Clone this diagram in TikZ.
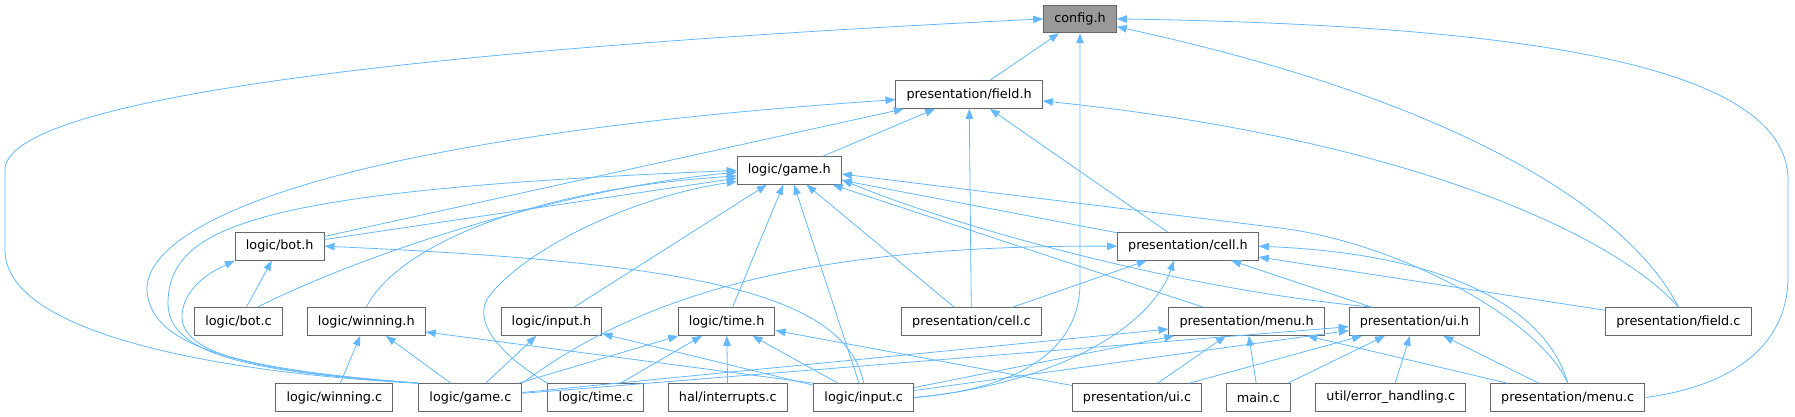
\documentclass[tikz,border=0pt]{standalone}
\usepackage{fontspec}
\setmainfont{DejaVu Sans}
\usepackage{xcolor}
\usetikzlibrary{arrows.meta,positioning}

\definecolor{edgeblue}{HTML}{63B8FF}
\definecolor{boxgrey}{HTML}{666666}
\definecolor{rootgrey}{HTML}{999999}

\begin{document}
\begin{tikzpicture}[
x=1pt, y=-1pt,
file/.style={draw=boxgrey, line width=1pt, fill=white, minimum height=27.7pt, inner xsep=10.6pt, inner ysep=0pt, font=\fontsize{12.8pt}{15pt}\selectfont},
root/.style={file, fill=rootgrey},
incl/.style={draw=edgeblue, line width=0.8pt, -{Triangle[length=10pt, width=7.5pt]}}
]
\useasboundingbox (0,0) rectangle (1795,417);

\node[root] (config) at (1080,18.9) {config.h};
\node[file] (fieldh) at (969.1,94.5) {presentation/field.h};
\node[file] (gameh) at (789.3,170.4) {logic/game.h};
\node[file] (both) at (279.7,246.2) {logic/bot.h};
\node[file] (cellh) at (1188,246.2) {presentation/cell.h};
\node[file] (botc) at (238.5,321.5) {logic/bot.c};
\node[file] (winningh) at (366.3,321.5) {logic/winning.h};
\node[file] (inputh) at (551.5,321.5) {logic/input.h};
\node[file] (timeh) at (726.6,321.5) {logic/time.h};
\node[file] (cellc) at (971.4,321.5) {presentation/cell.c};
\node[file] (menuh) at (1246.6,321.5) {presentation/menu.h};
\node[file] (uih) at (1414.4,321.5) {presentation/ui.h};
\node[file] (fieldc) at (1678.4,321.5) {presentation/field.c};
\node[file] (winningc) at (334.3,397.5) {logic/winning.c};
\node[file] (gamec) at (470.4,397.5) {logic/game.c};
\node[file] (timec) at (595.8,397.5) {logic/time.c};
\node[file] (interrupts) at (727.8,397.5) {hal/interrupts.c};
\node[file] (inputc) at (863.7,397.5) {logic/input.c};
\node[file] (uic) at (1137,397.5) {presentation/ui.c};
\node[file] (mainc) at (1258.4,397.5) {main.c};
\node[file] (errhandling) at (1390.7,397.5) {util/error\_handling.c};
\node[file] (menuc) at (1567.7,397.5) {presentation/menu.c};

% config.h
\draw[incl] (fieldh) -- (config);
\draw[incl] (gamec.north west) .. controls (250,375) and (5,340) .. (5,250) -- (5,170) .. controls (5,100) and (400,50) .. (config.west);
\draw[incl] (inputc.east) .. controls (1010,390) and (1080,355) .. (1080,283) -- (config.south);
\draw[incl] (fieldc.north) .. controls (1640,230) and (1500,110) .. (config.-12);
\draw[incl] (menuc.east) .. controls (1740,385) and (1788,340) .. (1788,277) -- (1788,180) .. controls (1788,60) and (1500,25) .. (config.east);

% presentation/field.h
\draw[incl] (gameh) -- (fieldh);
\draw[incl] (both) -- (fieldh);
\draw[incl] (cellc) -- (fieldh);
\draw[incl] (cellh) -- (fieldh);
\draw[incl] (gamec.north west) .. controls (250,370) and (150,350) .. (147,290) .. controls (145,230) and (300,140) .. (fieldh.184);
\draw[incl] (fieldc.north) .. controls (1620,240) and (1420,140) .. (fieldh.-5);

% logic/game.h
\draw[incl] (both) -- (gameh);
\draw[incl] (inputh) -- (gameh);
\draw[incl] (timeh) -- (gameh);
\draw[incl] (inputc) -- (gameh);
\draw[incl] (cellc) -- (gameh);
\draw[incl] (cellh) -- (gameh);
\draw[incl] (menuh) -- (gameh);
\draw[incl] ([xshift=-41pt]uih.north) .. controls (1180,290) and (950,225) .. (gameh.-10);
\draw[incl] (gamec.north west) .. controls (250,372) and (165,355) .. (168,300) .. controls (172,225) and (260,190) .. (gameh.west);
\draw[incl] ([xshift=19pt]botc.north) .. controls (350,260) and (550,190) .. (gameh.182);
\draw[incl] (winningh.north) .. controls (395,250) and (520,190) .. (gameh.186);
\draw[incl] (timec.north west) .. controls (500,355) and (470,320) .. (490,295) .. controls (530,245) and (640,195) .. (gameh.192);
\draw[incl] (menuc.north) .. controls (1540,320) and (1400,243) .. (1280,228) -- (gameh.-4);

% logic/bot.h, logic/winning.h, logic/input.h, logic/time.h
\draw[incl] (botc) -- (both);
\draw[incl] (gamec.north west) .. controls (260,372) and (180,355) .. (182,315) .. controls (184,285) and (215,270) .. (both.south west);
\draw[incl] (inputc.north) .. controls (845,290) and (680,262) .. (both.east);
\draw[incl] (winningc) -- (winningh);
\draw[incl] (gamec) -- (winningh);
\draw[incl] (inputc.north west) -- (winningh.-10);
\draw[incl] (gamec) -- (inputh);
\draw[incl] (inputc) -- (inputh);
\draw[incl] (gamec) -- (timeh);
\draw[incl] (timec) -- (timeh);
\draw[incl] (interrupts) -- (timeh);
\draw[incl] (inputc) -- (timeh);
\draw[incl] (uic) -- (timeh);

% presentation/cell.h
\draw[incl] (cellc) -- (cellh);
\draw[incl] (uih) -- (cellh);
\draw[incl] (fieldc) -- (cellh);
\draw[incl] (gamec.north east) .. controls (660,280) and (850,245) .. (cellh.west);
\draw[incl] (inputc.east) .. controls (1050,385) and (1150,330) .. ([xshift=-14pt]cellh.south);
\draw[incl] (menuc.north) .. controls (1550,320) and (1470,255) .. (cellh.east);

% presentation/menu.h, presentation/ui.h
\draw[incl] (gamec) -- (menuh);
\draw[incl] (inputc) -- (menuh);
\draw[incl] (uic) -- (menuh);
\draw[incl] (mainc) -- (menuh);
\draw[incl] (menuc) -- (menuh);
\draw[incl] (gamec) -- (uih);
\draw[incl] (inputc) -- (uih);
\draw[incl] (uic) -- (uih);
\draw[incl] (mainc) -- (uih);
\draw[incl] (errhandling) -- (uih);
\draw[incl] (menuc) -- (uih);
\end{tikzpicture}
\end{document}
